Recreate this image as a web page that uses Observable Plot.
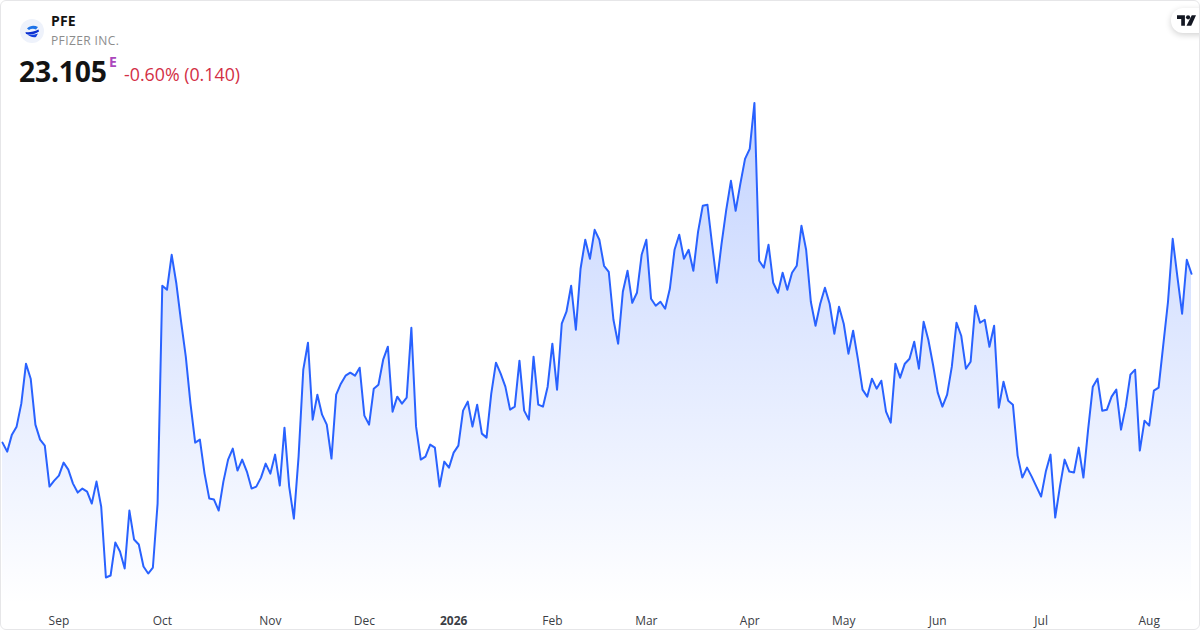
<!DOCTYPE html>
<html>
<head>
<meta charset="utf-8">
<script src="https://cdn.jsdelivr.net/npm/d3@7"></script>
<script src="https://cdn.jsdelivr.net/npm/@observablehq/plot@0.6"></script>
<style>
html,body{margin:0;padding:0;background:#fff}
#card{position:relative;width:1198px;height:628px;border:1px solid #e6e6e8;border-radius:6px;overflow:hidden;font-family:"Open Sans",sans-serif;background:#fff}
#chart{position:absolute;left:-1px;top:-1px}
#chart svg{display:block;background:transparent}
.t{position:absolute;white-space:nowrap}
#logo{position:absolute;left:18px;top:17px}
#sym{left:50px;top:10px;font-size:14px;font-weight:700;line-height:20px;color:#131313;letter-spacing:.2px}
#name{left:50px;top:31px;font-size:12px;line-height:18px;color:#8c8c8c;letter-spacing:.4px}
#price{left:18px;top:51px;font-size:28.3px;font-weight:700;line-height:38px;color:#131313;letter-spacing:-.2px}
#sup{left:108px;top:52px;font-size:14px;font-weight:700;line-height:18px;color:#ab47bc}
#chg{left:123px;top:61px;font-size:17.8px;line-height:24px;color:#d32f45}
#tv{position:absolute;left:1170px;top:7px;width:50px;height:25px;border-radius:12px;background:#fff;box-shadow:0 2px 6px rgba(0,0,0,.18)}
</style>
</head>
<body>
<div id="card">
  <div id="chart"></div>
  <svg id="logo" width="24" height="24" viewBox="0 0 24 24" style="left:19px;top:18px"><circle cx="12" cy="12" r="12" fill="#eef2fb"/><path d="M7 9.500C10 6.500 14 6 18 8l-2 2.500c-2.500-1.300-5-1-7 .5z" fill="#1e73e8"/><path d="M5.500 13c3 .5 8 .2 13-2.500l.5 2c-4 3-9 3.500-13 2.500z" fill="#0b2fd0"/><path d="M7 15c3 1.300 7 1 11-.5l-2 3.500c-3 .8-7-.5-9-3z" fill="#1340e0"/></svg>
  <div class="t" id="sym">PFE</div>
  <div class="t" id="name">PFIZER INC.</div>
  <div class="t" id="price">23.105</div>
  <div class="t" id="sup">E</div>
  <div class="t" id="chg">-0.60% (0.140)</div>
  <div id="tv"><svg width="19" height="11" viewBox="0 0 36 20" style="position:absolute;left:6px;top:7px"><path d="M0 0h15v20H8V7H0z" fill="#131722"/><circle cx="21" cy="4" r="4" fill="#131722"/><path d="M28 0h8l-9 20h-9z" fill="#131722"/></svg></div>
</div>
<script>
const prices = [25.42,25.33,25.50,25.58,25.81,26.21,26.06,25.60,25.45,25.39,24.98,25.04,25.09,25.22,25.15,25.01,24.92,24.96,24.93,24.81,25.03,24.78,24.07,24.09,24.42,24.33,24.16,24.74,24.45,24.40,24.18,24.11,24.17,24.81,26.99,26.95,27.30,27.01,26.63,26.28,25.81,25.42,25.45,25.11,24.86,24.85,24.74,25.03,25.25,25.36,25.14,25.25,25.13,24.96,24.98,25.07,25.21,25.11,25.30,24.99,25.57,24.98,24.66,25.28,26.15,26.42,25.65,25.90,25.70,25.60,25.26,25.90,26.01,26.09,26.12,26.09,26.17,25.69,25.60,25.96,26.00,26.25,26.38,25.73,25.88,25.81,25.87,26.57,25.58,25.25,25.28,25.40,25.37,24.98,25.23,25.17,25.32,25.39,25.74,25.83,25.58,25.80,25.51,25.47,25.91,26.22,26.11,25.98,25.75,25.78,26.24,25.74,25.65,26.28,25.80,25.78,25.98,26.41,25.95,26.61,26.73,26.99,26.55,27.16,27.45,27.26,27.55,27.45,27.19,27.13,26.65,26.41,26.93,27.14,26.82,26.92,27.30,27.45,26.86,26.79,26.83,26.76,26.96,27.35,27.50,27.26,27.35,27.14,27.53,27.79,27.80,27.40,27.02,27.41,27.75,28.04,27.74,28.01,28.26,28.36,28.82,27.24,27.17,27.40,27.02,26.92,27.12,26.95,27.12,27.19,27.59,27.35,26.83,26.59,26.81,26.97,26.81,26.51,26.78,26.61,26.31,26.54,26.26,25.95,25.88,26.06,25.96,26.04,25.73,25.62,26.21,26.07,26.21,26.26,26.43,26.16,26.63,26.45,26.20,25.92,25.78,25.90,26.18,26.62,26.49,26.16,26.23,26.79,26.62,26.65,26.38,26.59,25.77,26.03,25.84,25.80,25.29,25.07,25.17,25.08,24.98,24.88,25.13,25.30,24.67,24.98,25.25,25.13,25.12,25.37,25.07,25.55,25.98,26.06,25.74,25.75,25.88,25.95,25.55,25.78,26.10,26.15,25.34,25.64,25.59,25.94,25.97,26.40,26.83,27.46,27.08,26.71,27.25,27.11];
const tickIndex = [12,34,57,77,96,117,137,159,179,199,221,244];
const tickLabels = ["Sep","Oct","Nov","Dec","2026","Feb","Mar","Apr","May","Jun","Jul","Aug"];
const yearTick = "2026";
const lineColor = "#2962ff";

// price at the top and bottom of the SVG's height
const priceTop = 29.845, priceBottom = 23.545;
const points = prices.map((price, i) => ({i, price}));
const labelOf = i => tickLabels[tickIndex.indexOf(i)];
const monthTicks = tickIndex.filter(i => labelOf(i) !== yearTick);
const yearTicks = tickIndex.filter(i => labelOf(i) === yearTick);

const plot = Plot.plot({
  width: 1200, height: 630,
  marginTop: 0, marginBottom: 0, marginLeft: 0, marginRight: 0,
  style: {background: "transparent", fontFamily: '"Open Sans",sans-serif'},
  x: {domain: [0, prices.length - 1], range: [2, 1192], axis: null},
  y: {domain: [priceBottom, priceTop], range: [630, 0], axis: null},
  marks: [
    () => {
      const s = d3.create("svg:defs");
      const g = s.append("linearGradient").attr("id","fade").attr("x1",0).attr("x2",0).attr("y1",0).attr("y2",1);
      g.append("stop").attr("offset","0%").attr("stop-color",lineColor).attr("stop-opacity",0.28);
      g.append("stop").attr("offset","100%").attr("stop-color",lineColor).attr("stop-opacity",0);
      return s.node();
    },
    Plot.areaY(points, {x:"i", y1: priceBottom + 0.25, y2:"price", fill:"url(#fade)"}),
    Plot.lineY(points, {x:"i", y:"price", stroke: lineColor, strokeWidth: 2, curve:"linear"}),
    Plot.axisX({anchor:"bottom", label:null, ticks: monthTicks, tickFormat: labelOf, tickSize:0, tickPadding:-13, fontSize:12, fill:"#3b3e45"}),
    Plot.axisX({anchor:"bottom", label:null, ticks: yearTicks, tickFormat: labelOf, tickSize:0, tickPadding:-13, fontSize:12, fontWeight:700, fill:"#3b3e45"})
  ]
});
document.getElementById("chart").appendChild(plot);
</script>
</body>
</html>
